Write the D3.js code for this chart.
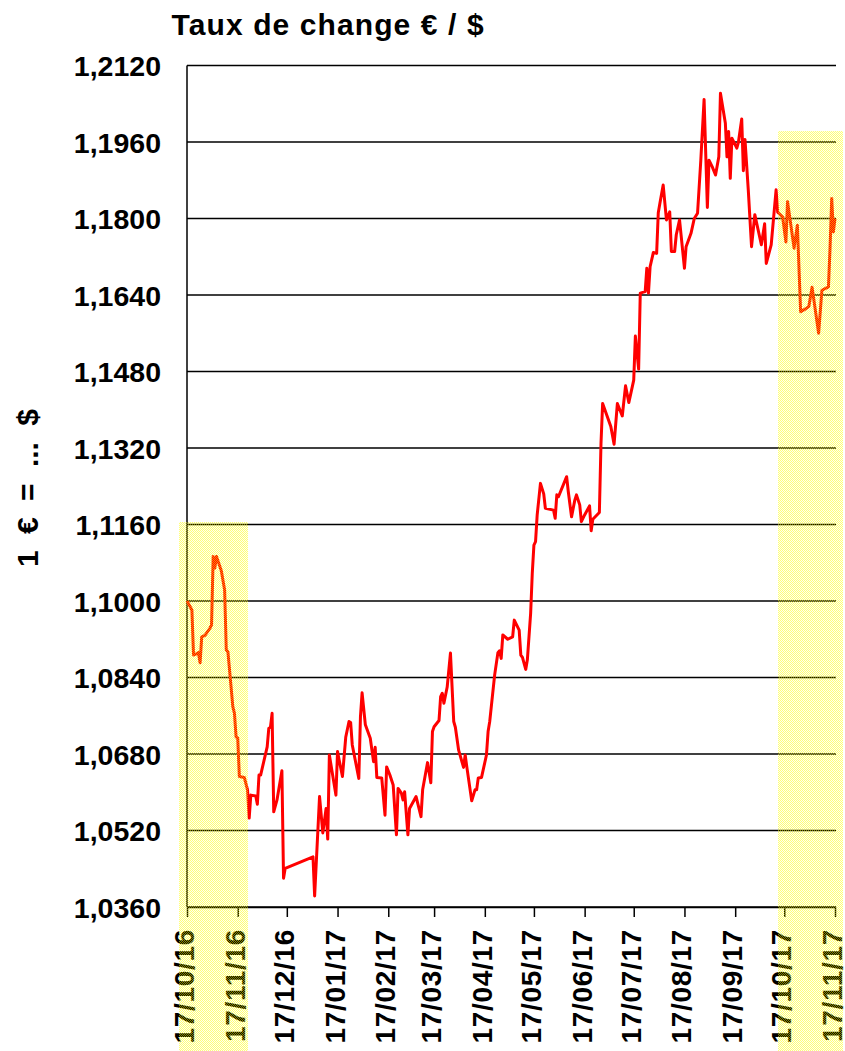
<!DOCTYPE html>
<html>
<head>
<meta charset="utf-8">
<script src="https://cdn.jsdelivr.net/npm/d3@7"></script>
<style>
  html, body { margin: 0; padding: 0; background: #ffffff; }
  svg { display: block; }
  text { font-family: "Liberation Sans", Arial, Helvetica, sans-serif; font-weight: bold; fill: #000; }
</style>
</head>
<body>
<svg id="chart" width="845" height="1051"></svg>
<script>
// ---------- DATA ----------
const chartTitle = "Taux de change € / $";
const yAxisTitle = "1 € = ... $";

const xTickLabels = ["17/10/16","17/11/16","17/12/16","17/01/17","17/02/17","17/03/17","17/04/17",
                     "17/05/17","17/06/17","17/07/17","17/08/17","17/09/17","17/10/17","17/11/17"];

const yTickValues = [1.036, 1.052, 1.068, 1.084, 1.100, 1.116, 1.132, 1.148, 1.164, 1.180, 1.196, 1.212];

const dates = [
  "2016-10-17","2016-10-20","2016-10-21","2016-10-23","2016-10-24","2016-10-25","2016-10-26","2016-10-28",
  "2016-10-31","2016-11-01","2016-11-02","2016-11-03","2016-11-04","2016-11-07","2016-11-09","2016-11-10",
  "2016-11-11","2016-11-14","2016-11-15","2016-11-16","2016-11-17","2016-11-18","2016-11-21","2016-11-23",
  "2016-11-24","2016-11-25","2016-11-28","2016-11-29","2016-11-30","2016-12-01","2016-12-05","2016-12-06",
  "2016-12-07","2016-12-08","2016-12-09","2016-12-11","2016-12-14","2016-12-15","2016-12-16",
  "2017-01-02","2017-01-03","2017-01-06","2017-01-08","2017-01-10","2017-01-11","2017-01-12","2017-01-16",
  "2017-01-17","2017-01-18","2017-01-20","2017-01-22","2017-01-24","2017-01-25","2017-01-26","2017-01-30",
  "2017-01-31","2017-02-01","2017-02-03","2017-02-06","2017-02-08","2017-02-09","2017-02-10","2017-02-13",
  "2017-02-15","2017-02-16","2017-02-18","2017-02-20","2017-02-22","2017-02-23","2017-02-25","2017-02-26",
  "2017-02-27","2017-03-01","2017-03-02","2017-03-06","2017-03-09","2017-03-10","2017-03-13","2017-03-15",
  "2017-03-16","2017-03-17","2017-03-20","2017-03-21","2017-03-22","2017-03-23","2017-03-25","2017-03-27",
  "2017-03-29","2017-03-30","2017-04-01","2017-04-04","2017-04-05","2017-04-06","2017-04-09","2017-04-11",
  "2017-04-12","2017-04-13","2017-04-15","2017-04-18","2017-04-19","2017-04-20","2017-04-23","2017-04-25",
  "2017-04-26","2017-04-27","2017-04-28","2017-05-01","2017-05-04","2017-05-05","2017-05-08","2017-05-09",
  "2017-05-10","2017-05-12","2017-05-13","2017-05-15","2017-05-16","2017-05-17","2017-05-18","2017-05-19",
  "2017-05-21","2017-05-23","2017-05-24","2017-05-29","2017-05-30","2017-05-31","2017-06-01","2017-06-06",
  "2017-06-07","2017-06-09","2017-06-11","2017-06-12","2017-06-14","2017-06-15","2017-06-17","2017-06-20",
  "2017-06-21","2017-06-22","2017-06-26","2017-06-27","2017-06-28","2017-07-03","2017-07-05","2017-07-07",
  "2017-07-10","2017-07-12","2017-07-14","2017-07-17","2017-07-18","2017-07-20","2017-07-21","2017-07-24",
  "2017-07-25","2017-07-26","2017-07-27","2017-07-29","2017-07-31","2017-08-01","2017-08-02","2017-08-04",
  "2017-08-06","2017-08-08","2017-08-09","2017-08-11","2017-08-12","2017-08-14","2017-08-17","2017-08-18",
  "2017-08-21","2017-08-23","2017-08-25","2017-08-27","2017-08-29","2017-08-31","2017-09-01","2017-09-03",
  "2017-09-05","2017-09-07","2017-09-08","2017-09-11","2017-09-12","2017-09-13","2017-09-14","2017-09-15",
  "2017-09-18","2017-09-19","2017-09-21","2017-09-22","2017-09-23","2017-09-25","2017-09-27","2017-09-29",
  "2017-10-03","2017-10-05","2017-10-06","2017-10-09","2017-10-12","2017-10-13","2017-10-16","2017-10-18",
  "2017-10-19","2017-10-23","2017-10-25","2017-10-27","2017-10-30","2017-11-01","2017-11-02","2017-11-03",
  "2017-11-07","2017-11-09","2017-11-13","2017-11-14","2017-11-15","2017-11-16","2017-11-17"
];

const rates = [
  1.1000,1.0981,1.0887,1.0890,1.0892,1.0871,1.0925,1.0928,
  1.0943,1.0950,1.1093,1.1069,1.1093,1.1063,1.1023,1.0898,
  1.0894,1.0779,1.0765,1.0716,1.0713,1.0633,1.0631,1.0605,
  1.0546,1.0594,1.0592,1.0575,1.0636,1.0636,1.0695,1.0734,
  1.0736,1.0765,1.0559,1.0584,1.0645,1.0420,1.0441,
  1.0465,1.0383,1.0591,1.0515,1.0566,1.0502,1.0678,1.0594,
  1.0685,1.0667,1.0633,1.0715,1.0748,1.0746,1.0699,1.0629,
  1.0758,1.0808,1.0741,1.0713,1.0664,1.0694,1.0631,1.0630,
  1.0552,1.0653,1.0636,1.0615,1.0511,1.0608,1.0598,1.0584,
  1.0601,1.0511,1.0566,1.0591,1.0549,1.0605,1.0662,1.0620,
  1.0727,1.0737,1.0750,1.0800,1.0807,1.0786,1.0820,1.0891,
  1.0748,1.0736,1.0688,1.0652,1.0678,1.0653,1.0582,1.0605,
  1.0605,1.0630,1.0631,1.0678,1.0727,1.0748,1.0845,1.0892,
  1.0896,1.0880,1.0929,1.0920,1.0925,1.0960,1.0939,1.0887,
  1.0882,1.0857,1.0877,1.0974,1.1058,1.1117,1.1124,1.1180,
  1.1246,1.1224,1.1194,1.1190,1.1173,1.1222,1.1218,1.1260,
  1.1229,1.1176,1.1211,1.1222,1.1201,1.1166,1.1180,1.1199,
  1.1147,1.1171,1.1185,1.1330,1.1413,1.1365,1.1328,1.1413,
  1.1387,1.1450,1.1415,1.1462,1.1554,1.1485,1.1644,1.1647,
  1.1696,1.1644,1.1699,1.1729,1.1727,1.1812,1.1832,1.1870,
  1.1797,1.1814,1.1731,1.1731,1.1766,1.1797,1.1696,1.1741,
  1.1769,1.1800,1.1811,1.1922,1.2049,1.1823,1.1922,1.1908,
  1.1891,1.1929,1.2062,1.1999,1.1929,1.1982,1.1884,1.1968,
  1.1947,1.1960,1.2008,1.1900,1.1965,1.1860,1.1741,1.1808,
  1.1745,1.1789,1.1706,1.1745,1.1860,1.1813,1.1803,1.1751,
  1.1835,1.1738,1.1786,1.1605,1.1611,1.1616,1.1636,1.1656,
  1.1560,1.1650,1.1657,1.1741,1.1842,1.1772,1.1800
];

// highlighted periods (date ranges) and the value at their top edge
const highlightStarts = ["2016-10-12", "2017-10-13"];
const highlightEnds   = ["2016-11-23", "2017-11-22"];
const highlightTops   = [1.1165, 1.1983];

// ---------- CHART ----------
const svg = d3.select("#chart");
const W = 845, H = 1051;
const plot = { left: 187, right: 836, top: 65.5, bottom: 907 };

const parseISO = d3.utcParse("%Y-%m-%d");
const parseTick = d3.utcParse("%d/%m/%y");
const tickDates = xTickLabels.map(parseTick);

const data = dates.map((d, i) => ({ date: parseISO(d), value: rates[i] }));

const x = d3.scaleUtc()
  .domain([tickDates[0], tickDates[tickDates.length - 1]])
  .range([plot.left, plot.right - 1]);

const y = d3.scaleLinear()
  .domain([yTickValues[0], yTickValues[yTickValues.length - 1]])
  .range([plot.bottom, plot.top]);

const fr = d3.formatLocale({ decimal: ",", thousands: " ", grouping: [3], currency: ["", " €"] });
const fmt = fr.format(".4f");

svg.append("rect").attr("width", W).attr("height", H).attr("fill", "#fff");

// gridlines
svg.append("g")
  .selectAll("line")
  .data(yTickValues)
  .join("line")
  .attr("x1", plot.left).attr("x2", plot.right)
  .attr("y1", d => y(d)).attr("y2", d => y(d))
  .attr("stroke", "#000").attr("stroke-width", 1.4);

// y axis (labels via d3 axis)
const yAxis = d3.axisLeft(y).tickValues(yTickValues).tickFormat(fmt).tickSize(0).tickPadding(26);
const gy = svg.append("g").attr("transform", `translate(${plot.left},0)`).call(yAxis);
gy.select(".domain").remove();
gy.selectAll("text")
  .attr("font-family", '"Liberation Sans", Arial, sans-serif')
  .attr("font-weight", "bold")
  .attr("font-size", 28.5)
  .attr("fill", "#000")
  .attr("dy", "0.36em");

// left axis line
svg.append("line")
  .attr("x1", plot.left).attr("x2", plot.left)
  .attr("y1", plot.top).attr("y2", plot.bottom)
  .attr("stroke", "#000").attr("stroke-width", 1.5);

// x axis
const xAxis = d3.axisBottom(x).tickValues(tickDates)
  .tickFormat((d, i) => xTickLabels[i]).tickSize(10).tickSizeOuter(0);
const gx = svg.append("g").attr("transform", `translate(0,${plot.bottom})`).call(xAxis);
gx.select(".domain").attr("stroke", "#000").attr("stroke-width", 1.5);
gx.selectAll(".tick line").attr("stroke", "#000").attr("stroke-width", 1.5);
gx.selectAll("text")
  .attr("font-family", '"Liberation Sans", Arial, sans-serif')
  .attr("font-weight", "bold")
  .attr("font-size", 28)
  .attr("letter-spacing", "0.7px")
  .attr("fill", "#000")
  .attr("text-anchor", "end")
  .attr("transform", "translate(-3,22) rotate(-90)")
  .attr("x", 0)
  .attr("y", 0)
  .attr("dy", "0.34em");

// data line
const line = d3.line().x(d => x(d.date)).y(d => y(d.value)).curve(d3.curveLinear);
svg.append("path")
  .datum(data)
  .attr("d", line)
  .attr("fill", "none")
  .attr("stroke", "#ff0000")
  .attr("stroke-width", 3)
  .attr("stroke-linejoin", "round");

// title
svg.append("text")
  .attr("x", 171.5).attr("y", 34.5)
  .attr("font-size", 30)
  .attr("letter-spacing", "1.1px")
  .text(chartTitle);

// y axis title
svg.append("text")
  .attr("transform", "translate(27,488) rotate(-90)")
  .attr("text-anchor", "middle")
  .attr("dy", "0.36em")
  .attr("font-size", 30)
  .attr("word-spacing", "8px")
  .text(yAxisTitle);

// highlight overlays (on top, dithered pale yellow)
const defs = svg.append("defs");
const pat = defs.append("pattern")
  .attr("id", "hl").attr("width", 2).attr("height", 2)
  .attr("patternUnits", "userSpaceOnUse");
pat.append("rect").attr("x", 0).attr("y", 0).attr("width", 2).attr("height", 2).attr("fill", "rgba(255,255,0,0.06)");
pat.append("rect").attr("x", 0).attr("y", 0).attr("width", 1).attr("height", 1).attr("fill", "rgba(255,255,0,0.5)");
pat.append("rect").attr("x", 1).attr("y", 1).attr("width", 1).attr("height", 1).attr("fill", "rgba(255,255,0,0.5)");

svg.append("g")
  .selectAll("rect")
  .data(highlightStarts.map((s, i) => ({ s: parseISO(s), e: parseISO(highlightEnds[i]), top: highlightTops[i] })))
  .join("rect")
  .attr("x", d => Math.round(x(d.s)))
  .attr("width", d => Math.round(x(d.e) - x(d.s)))
  .attr("y", d => Math.round(y(d.top)))
  .attr("height", d => H - Math.round(y(d.top)))
  .attr("fill", "url(#hl)");
</script>
</body>
</html>
